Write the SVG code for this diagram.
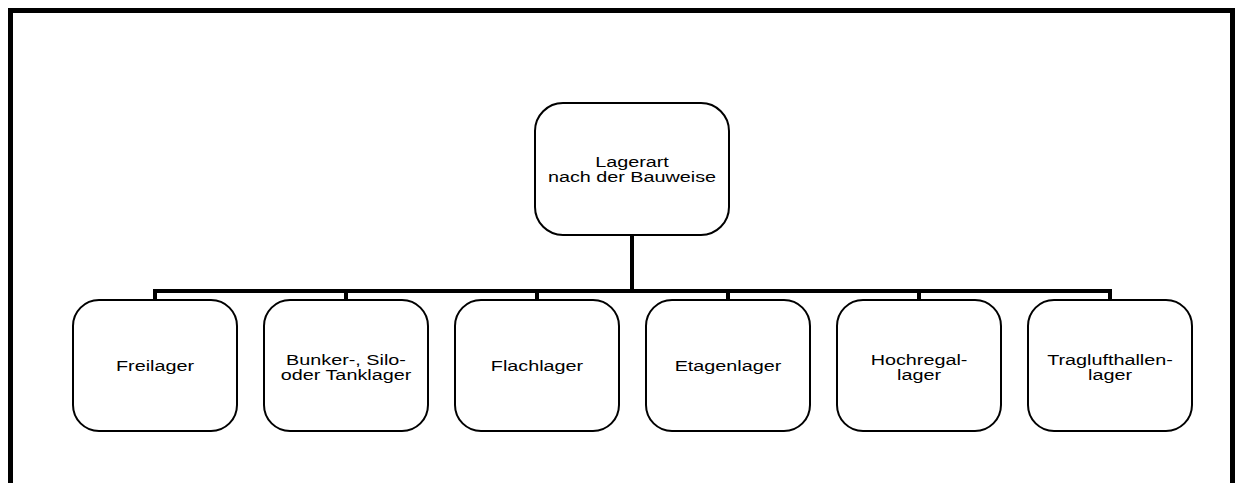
<svg xmlns="http://www.w3.org/2000/svg" width="1239" height="483" viewBox="0 0 1239 483">
<style>
.box{fill:#fff;stroke:#000;stroke-width:2}
.t{font-family:"Liberation Sans",Arial,sans-serif;font-size:15px;fill:#000;text-anchor:middle}
.c{stroke:#000;stroke-width:4;fill:none}
</style>
<rect x="0" y="0" width="1239" height="483" fill="#fff"/>
<path d="M10.5 483 V10.5 H1232.5 V483" fill="none" stroke="#000" stroke-width="5"/>
<g id="connectors">
<path class="c" d="M632 235 V291"/>
<path class="c" d="M155 300 V291 H1110 V300"/>
<path class="c" d="M346 291 V300 M537 291 V300 M728 291 V300 M919 291 V300"/>
</g>
<g id="root"><rect class="box" x="535" y="103" width="194" height="132" rx="28"/>
<text class="t" transform="matrix(1.32 0 0 1 632 0)" x="0" y="167">Lagerart</text><text class="t" transform="matrix(1.32 0 0 1 632 0)" x="0" y="182">nach der Bauweise</text></g>
<g id="n1"><rect class="box" x="73" y="300" width="164" height="131" rx="26"/>
<text class="t" transform="matrix(1.32 0 0 1 155 0)" x="0" y="371">Freilager</text></g>
<g id="n2"><rect class="box" x="264" y="300" width="164" height="131" rx="26"/>
<text class="t" transform="matrix(1.32 0 0 1 346 0)" x="0" y="365">Bunker-, Silo-</text><text class="t" transform="matrix(1.32 0 0 1 346 0)" x="0" y="380.5">oder Tanklager</text></g>
<g id="n3"><rect class="box" x="455" y="300" width="164" height="131" rx="26"/>
<text class="t" transform="matrix(1.32 0 0 1 537 0)" x="0" y="371">Flachlager</text></g>
<g id="n4"><rect class="box" x="646" y="300" width="164" height="131" rx="26"/>
<text class="t" transform="matrix(1.32 0 0 1 728 0)" x="0" y="371">Etagenlager</text></g>
<g id="n5"><rect class="box" x="837" y="300" width="164" height="131" rx="26"/>
<text class="t" transform="matrix(1.32 0 0 1 919 0)" x="0" y="365">Hochregal-</text><text class="t" transform="matrix(1.32 0 0 1 919 0)" x="0" y="380.5">lager</text></g>
<g id="n6"><rect class="box" x="1028" y="300" width="164" height="131" rx="26"/>
<text class="t" transform="matrix(1.32 0 0 1 1110 0)" x="0" y="365">Traglufthallen-</text><text class="t" transform="matrix(1.32 0 0 1 1110 0)" x="0" y="380.5">lager</text></g>
</svg>
